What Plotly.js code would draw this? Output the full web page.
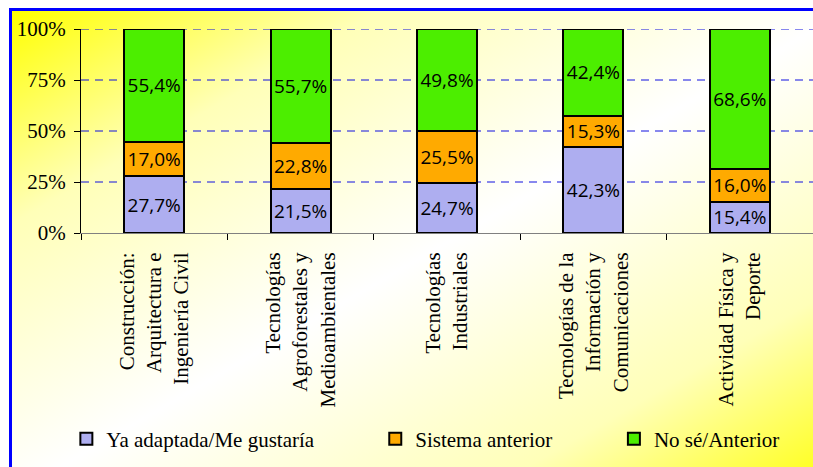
<!DOCTYPE html>
<html>
<head>
<meta charset="utf-8">
<script src="https://cdn.plot.ly/plotly-3.0.1.min.js"></script>
<style>
  html, body { margin: 0; padding: 0; background: #ffffff; }
  #wrap { position: relative; width: 813px; height: 467px; overflow: hidden; background: #ffffff; }
  #frame { position: absolute; left: 9px; top: 8px; width: 840px; height: 490px; box-sizing: border-box;
           border: 3px solid #0000ff;
           background: linear-gradient(to bottom right, #ffff00 0%, #ffffb8 22%, #ffffff 50%, #ffffb8 78%, #ffff00 100%); }
  #chart { position: absolute; left: 0; top: 0; width: 813px; height: 467px; }
</style>
</head>
<body>
<div id="wrap">
  <div id="frame"></div>
  <div id="chart"></div>
</div>
<script>
const categories = [
  "Construcción:<br>Arquitectura e<br>Ingeniería Civil",
  "Tecnologías<br>Agroforestales y<br>Medioambientales",
  "Tecnologías<br>Industriales",
  "Tecnologías de la<br>Información y<br>Comunicaciones",
  "Actividad Física y<br>Deporte"
];
const seriesNames = ["Ya adaptada/Me gustaría", "Sistema anterior", "No sé/Anterior"];
const yaAdaptada = [27.7, 21.5, 24.7, 42.3, 15.4];
const sistemaAnterior = [17.0, 22.8, 25.5, 15.3, 16.0];
const noSe = [55.4, 55.7, 49.8, 42.4, 68.6];
const yTickVals = [0, 25, 50, 75, 100];

const colors = ["#aeaef0", "#ffaa00", "#4cee00"];
const serif = "Liberation Serif";
const sans = "Open Sans";

function barTrace(name, vals, color, legendId) {
  return {
    type: "bar",
    name: name,
    x: categories,
    y: vals,
    legend: legendId,
    marker: { color: color, line: { color: "#000000", width: 2 } },
    texttemplate: "%{y:.1f}%",
    textposition: "inside",
    insidetextanchor: "middle",
    textangle: 0,
    constraintext: "none",
    textfont: { family: sans, size: 19, color: "#000000" },
    hoverinfo: "skip"
  };
}

const data = [
  barTrace(seriesNames[0], yaAdaptada, colors[0], "legend"),
  barTrace(seriesNames[1], sistemaAnterior, colors[1], "legend2"),
  barTrace(seriesNames[2], noSe, colors[2], "legend3")
];

const legendBase = {
  orientation: "h",
  yanchor: "middle",
  xanchor: "left",
  y: -1.01,
  bgcolor: "rgba(0,0,0,0)",
  font: { family: serif, size: 21, color: "#000000" }
};

const gridShapes = yTickVals.filter(v => v > 0).map(v => ({
  type: "line", xref: "paper", yref: "y", x0: 0, x1: 1, y0: v, y1: v,
  line: { color: "#1010e0", width: 1, dash: "8px,6px" }, layer: "below"
}));

const layout = {
  width: 813,
  height: 467,
  margin: { l: 81, r: 0, t: 29, b: 234 },
  paper_bgcolor: "rgba(0,0,0,0)",
  plot_bgcolor: "rgba(0,0,0,0)",
  font: { family: serif, size: 21, color: "#000000" },
  barmode: "stack",
  bargap: 0.59,
  separators: ",.",
  showlegend: true,
  legend: Object.assign({}, legendBase, { x: -0.02 }),
  legend2: Object.assign({}, legendBase, { x: 0.402 }),
  legend3: Object.assign({}, legendBase, { x: 0.728 }),
  xaxis: {
    type: "category",
    tickangle: -90,
    tickfont: { family: serif, size: 21, color: "#000000" },
    showline: true,
    linecolor: "#808080",
    linewidth: 1,
    ticks: "outside",
    tickson: "boundaries",
    ticklen: 6,
    tickcolor: "#000000",
    showgrid: false,
    zeroline: false,
    ticklabelstandoff: 10
  },
  yaxis: {
    range: [0, 100],
    tickvals: yTickVals,
    ticktext: yTickVals.map(v => v + "%"),
    tickfont: { family: serif, size: 21, color: "#000000" },
    showline: true,
    linecolor: "#000000",
    linewidth: 1,
    ticks: "outside",
    ticklen: 6,
    tickcolor: "#000000",
    showgrid: false,
    zeroline: false,
    ticklabelstandoff: 4
  },
  shapes: gridShapes
};

Plotly.newPlot("chart", data, layout, { displayModeBar: false, staticPlot: true });
</script>
</body>
</html>
